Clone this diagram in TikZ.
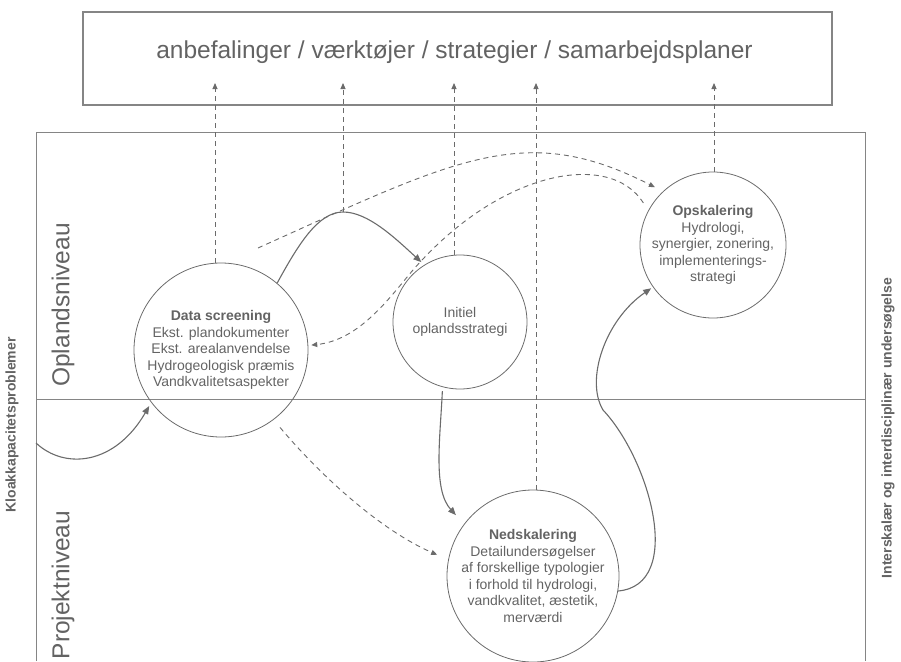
\documentclass[tikz,border=0pt]{standalone}
\usepackage{fontspec}
\setmainfont{Liberation Sans}
\usetikzlibrary{arrows.meta}
\definecolor{linegray}{HTML}{6B6B6B}
\definecolor{textgray}{HTML}{636363}
\definecolor{framegray}{HTML}{858585}
\begin{document}
\begin{tikzpicture}[x=1pt, y=-1pt, >={Triangle[length=8pt, width=6.5pt]},
  stage/.style={circle, draw=linegray, line width=0.8pt, align=center, inner sep=0pt, text=textgray, font=\fontsize{14}{16.6}\selectfont},
  tier/.style={rotate=90, text=textgray, font=\fontsize{24.5}{28}\selectfont},
  sidelabel/.style={rotate=90, text=textgray, font=\bfseries\fontsize{14}{16}\selectfont},
  flow/.style={->, draw=linegray, line width=1.1pt},
  dashlink/.style={-{Triangle[length=6pt, width=5pt]}, draw=linegray, line width=0.9pt, dash pattern=on 5pt off 4pt}]
\useasboundingbox (0,0) rectangle (901,661);
\node[draw=framegray, line width=1.4pt, minimum width=749pt, minimum height=93pt] (goals) at (457.5,58.5) {};
\node[text=textgray, font=\fontsize{24.5}{28}\selectfont] (goaltext) at (454.5,52) {anbefalinger / værktøjer / strategier / samarbejdsplaner};
\draw[framegray, line width=1pt] (36,661) -- (36,132) -- (865,132) -- (865,661);
\draw[framegray, line width=1pt] (36,399) -- (865,399);
\node[tier] (upperlevel) at (63,305) {Oplandsniveau};
\node[tier] (lowerlevel) at (63,585) {Projektniveau};
\node[sidelabel] (sewer) at (12,425) {Kloakkapacitetsproblemer};
\node[sidelabel] (crossscale) at (888,428) {Interskalær og interdisciplinær undersøgelse};
\node[stage, minimum size=174pt] (screen) at (221,350) {\textbf{Data screening}\\Ekst. plandokumenter\\Ekst. arealanvendelse\\Hydrogeologisk præmis\\Vandkvalitetsaspekter};
\node[stage, minimum size=134pt] (initial) at (460,322) {Initiel\\oplandsstrategi};
\node[stage, minimum size=146pt] (upscale) at (713,245) {\textbf{Opskalering}\\Hydrologi,\\synergier, zonering,\\implementerings-\\strategi};
\node[stage, minimum size=172pt] (downscale) at (533,576) {\textbf{Nedskalering}\\Detailundersøgelser\\af forskellige typologier\\i forhold til hydrologi,\\vandkvalitet, æstetik,\\merværdi};
\coordinate (tip1) at (215,83);
\coordinate (tip2) at (343,83);
\coordinate (tip3) at (454,83);
\coordinate (tip4) at (536,83);
\coordinate (tip5) at (714,83);
\coordinate (crest) at (343,212);
\coordinate (arcstart) at (258,248);
\coordinate (inflow) at (36,443);
\coordinate (bend) at (413,270);
\coordinate (turn) at (603,410);
\draw[dashlink] (screen.north -| tip1) -- (tip1);
\draw[dashlink] (crest) -- (tip2);
\draw[dashlink] (initial.north -| tip3) -- (tip3);
\draw[dashlink] (downscale.north -| tip4) -- (tip4);
\draw[dashlink] (upscale.north -| tip5) -- (tip5);
\draw[dashlink, shorten >=9pt] (arcstart) .. controls (458,158) and (525,121) .. (upscale.133);
\draw[dashlink, shorten <=9pt, shorten >=3pt] (upscale.152) .. controls (610,150) and (500,170) .. (bend) .. controls (390,297) and (360,340) .. (screen.3);
\draw[dashlink, shorten <=10pt, shorten >=12pt] (screen.-53) .. controls (320,475) and (380,530) .. (downscale.169);
\draw[flow, shorten >=4pt] (screen.50) .. controls (298,245) and (318,212) .. (crest) .. controls (368,212) and (395,238) .. (initial.122);
\draw[flow, shorten >=4pt] (inflow) .. controls (65,470) and (115,465) .. (screen.-143);
\draw[flow, shorten <=4pt, shorten >=12pt] (initial.-105) .. controls (440,440) and (433,490) .. (downscale.143);
\draw[flow, shorten >=2pt] (downscale.-10) .. controls (685,585) and (650,460) .. (turn) .. controls (585,380) and (605,320) .. (upscale.-145);
\end{tikzpicture}
\end{document}
